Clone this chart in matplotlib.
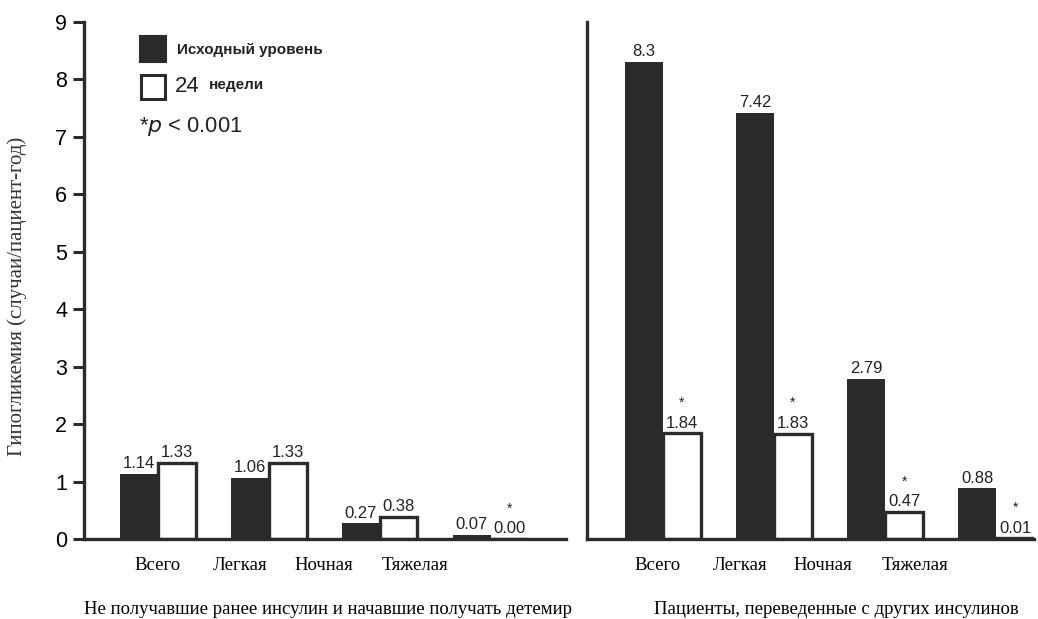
import matplotlib
matplotlib.use("Agg")
import matplotlib.pyplot as plt
import numpy as np

categories = ["Всего", "Легкая", "Ночная", "Тяжелая"]
left_baseline = [1.14, 1.06, 0.27, 0.07]
left_week24 = [1.33, 1.33, 0.38, 0.00]
left_sig = [False, False, False, True]
right_baseline = [8.3, 7.42, 2.79, 0.88]
right_week24 = [1.84, 1.83, 0.47, 0.01]
right_sig = [True, True, True, True]
left_fmt = ["1.14", "1.06", "0.27", "0.07"]
left_fmt2 = ["1.33", "1.33", "0.38", "0.00"]
right_fmt = ["8.3", "7.42", "2.79", "0.88"]
right_fmt2 = ["1.84", "1.83", "0.47", "0.01"]
yticks = list(range(0, 10))
ylabel = "Гипогликемия (случаи/пациент-год)"
left_title = "Не получавшие ранее инсулин и начавшие получать детемир"
right_title = "Пациенты, переведенные с других инсулинов"
legend_base = "Исходный уровень"
legend_24_num = "24"
legend_24_word = "недели"

DARK = "#2b2b2b"
SANS = "Liberation Sans"
SERIF = "Liberation Serif"

fig = plt.figure(figsize=(10.38, 6.19), dpi=100)
axL = fig.add_axes([84/1038, 1-539/619, (566-84)/1038, (539-22)/619])
axR = fig.add_axes([587/1038, 1-539/619, (1034-587)/1038, (539-22)/619])

w = 0.34
x = np.arange(len(categories))

def draw(ax, base, wk, fb, fw, sig, xlim, label_pos):
    ax.bar(x - w/2, base, w, color=DARK, edgecolor=DARK, linewidth=0)
    ax.bar(x + w/2, wk, w, color="white", edgecolor=DARK, linewidth=2.4)
    for i in range(len(x)):
        ax.annotate(fb[i], (x[i] - w/2, base[i]), xytext=(0, 2), textcoords="offset points",
                    ha="center", va="bottom", fontsize=12, family=SANS, color="#222222")
        ax.annotate(fw[i], (x[i] + w/2, wk[i]), xytext=(0, 2), textcoords="offset points",
                    ha="center", va="bottom", fontsize=12, family=SANS, color="#222222")
        if sig[i]:
            ax.annotate("*", (x[i] + w/2, wk[i]), xytext=(0, 17), textcoords="offset points",
                        ha="center", va="bottom", fontsize=10, family=SANS, color="#222222")
    ax.set_xlim(*xlim)
    ax.set_ylim(0, 9)
    ax.set_xticks(label_pos)
    ax.set_xticklabels(categories, family=SERIF, fontsize=13.5)
    ax.tick_params(axis="x", length=0, pad=13)
    for s in ["top", "right"]:
        ax.spines[s].set_visible(False)
    for s in ["left", "bottom"]:
        ax.spines[s].set_linewidth(2.4)
        ax.spines[s].set_color(DARK)

draw(axL, left_baseline, left_week24, left_fmt, left_fmt2, left_sig,
     (-0.667, 3.68), [0, 0.74, 1.50, 2.32])
draw(axR, right_baseline, right_week24, right_fmt, right_fmt2, right_sig,
     (-0.685, 3.34), [-0.05, 0.69, 1.44, 2.27])

axL.set_yticks(yticks)
axL.set_yticklabels([str(t) for t in yticks], family=SANS, fontsize=15.5)
axL.tick_params(axis="y", length=8, width=2.2, color=DARK, pad=4)
axL.set_ylabel(ylabel, family=SERIF, fontsize=15, color="#333333")
axL.yaxis.set_label_coords(-0.118, 0.47)
axR.set_yticks([])

# legend
fig.patches.append(plt.Rectangle((140/1038, 1-62/619), 26/1038, 26/619,
                                 transform=fig.transFigure, facecolor=DARK, edgecolor=DARK, lw=1.5))
fig.patches.append(plt.Rectangle((141/1038, 1-99/619), 24/1038, 24/619,
                                 transform=fig.transFigure, facecolor="white", edgecolor=DARK, lw=2.2))
fig.text(177/1038, 1-50/619, legend_base, family=SANS, fontsize=11, fontweight="bold",
         va="center", ha="left", color="#222222")
fig.text(175/1038, 1-87/619, legend_24_num, family=SANS, fontsize=16,
         va="center", ha="left", color="#222222")
fig.text(209/1038, 1-85/619, legend_24_word, family=SANS, fontsize=11, fontweight="bold",
         va="center", ha="left", color="#222222")
fig.text(139/1038, 1-127/619, r"*$\mathit{p}$ < 0.001", family=SANS, fontsize=15.8,
         va="center", ha="left", color="#222222")

fig.text(328/1038, 1-610/619, left_title, family=SERIF, fontsize=13.5, ha="center", va="center")
fig.text(836/1038, 1-610/619, right_title, family=SERIF, fontsize=13.5, ha="center", va="center")

fig.savefig("out.png", dpi=100)
